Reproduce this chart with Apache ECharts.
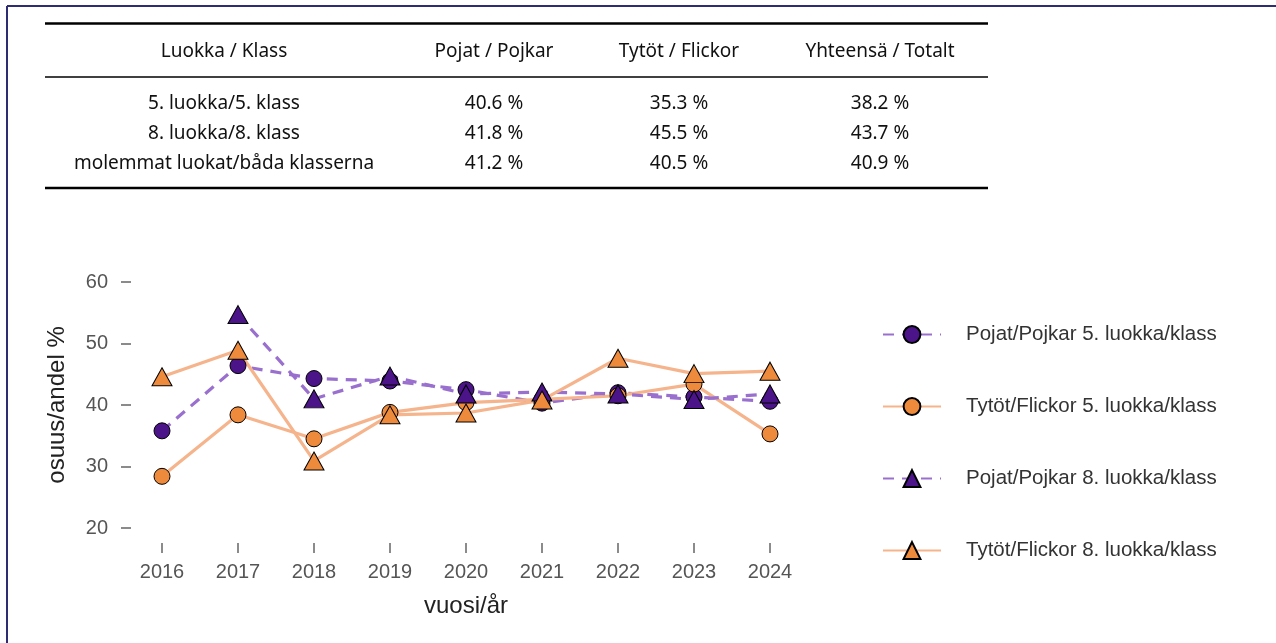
<!DOCTYPE html>
<html>
<head>
<meta charset="utf-8">
<script src="https://cdn.jsdelivr.net/npm/echarts@6/dist/echarts.min.js"></script>
<style>
html,body{margin:0;padding:0;background:#fff;}
#chart{width:1276px;height:643px;}
</style>
</head>
<body>
<div id="chart"></div>
<script>
// ---- data ----
const years = ['2016','2017','2018','2019','2020','2021','2022','2023','2024'];
const pojat5 = [35.8, 46.4, 44.3, 43.9, 42.5, 40.3, 42.0, 41.3, 40.6];
const tytot5 = [28.4, 38.4, 34.5, 38.8, 40.4, 40.9, 41.5, 43.4, 35.3];
const pojat8 = [null, 54.7, 41.0, 44.7, 41.8, 42.1, 41.8, 40.9, 41.8];
const tytot8 = [44.6, 48.9, 30.9, 38.4, 38.7, 40.8, 47.6, 45.1, 45.5];
const seriesNames = ['Pojat/Pojkar 5. luokka/klass','Tytöt/Flickor 5. luokka/klass','Pojat/Pojkar 8. luokka/klass','Tytöt/Flickor 8. luokka/klass'];
const yTicks = [20, 30, 40, 50, 60];

const tableHeaders = ['Luokka / Klass','Pojat / Pojkar','Tytöt / Flickor','Yhteensä / Totalt'];
const tableRowLabels = ['5. luokka/5. klass','8. luokka/8. klass','molemmat luokat/båda klasserna'];
const tablePojat = ['40.6 %','41.8 %','41.2 %'];
const tableTytot = ['35.3 %','45.5 %','40.5 %'];
const tableTotal = ['38.2 %','43.7 %','40.9 %'];

// ---- styles ----
const PURPLE = '#4b1488', PURPLE_LINE = '#9a70cf';
const ORANGE = '#ee8a3c', ORANGE_LINE = '#f5b48c';
const tableFont = '"Noto Sans", sans-serif';
const colX = [224, 494, 679, 880];
const rowY = [104, 134, 164];
const SANS = '"Liberation Sans", Arial, sans-serif';

const graphics = [];
// frame
graphics.push({type:'line', shape:{x1:7,y1:6,x2:1276,y2:6}, style:{stroke:'#2e2c72', lineWidth:2}});
graphics.push({type:'line', shape:{x1:7,y1:6,x2:7,y2:643}, style:{stroke:'#2e2c72', lineWidth:2}});
// table rules
graphics.push({type:'line', shape:{x1:45,y1:23.5,x2:988,y2:23.5}, style:{stroke:'#000', lineWidth:2.5}});
graphics.push({type:'line', shape:{x1:45,y1:77,x2:988,y2:77}, style:{stroke:'#000', lineWidth:1.6}});
graphics.push({type:'line', shape:{x1:45,y1:188,x2:988,y2:188}, style:{stroke:'#000', lineWidth:2.5}});
function cell(text, x, y){
  graphics.push({type:'text', x:x, y:y, style:{text:text, fill:'#111', font:'19px ' + tableFont, textAlign:'center', textVerticalAlign:'middle'}});
}
tableHeaders.forEach((h,i)=>cell(h, colX[i], 52));
tableRowLabels.forEach((t,i)=>{
  cell(t, colX[0], rowY[i]);
  cell(tablePojat[i], colX[1], rowY[i]);
  cell(tableTytot[i], colX[2], rowY[i]);
  cell(tableTotal[i], colX[3], rowY[i]);
});

function mkSeries(name, data, isBoy, symbol){
  return {
    name: name, type:'line', data: data,
    symbol: symbol,
    symbolSize: symbol === 'circle' ? 16 : [20, 18],
    connectNulls: false,
    showAllSymbol: true,
    itemStyle: {color: isBoy ? PURPLE : ORANGE, borderColor:'#000', borderWidth:1},
    lineStyle: {color: isBoy ? PURPLE_LINE : ORANGE_LINE, width:3.2, type: isBoy ? [11,8] : 'solid'},
    emphasis: {disabled:true},
    animation:false
  };
}

const chart = echarts.init(document.getElementById('chart'), null, {renderer:'canvas'});
chart.setOption({
  animation:false,
  backgroundColor:'#fff',
  grid: {left:162, right:506, top:282, bottom:115, containLabel:false},
  xAxis: {
    type:'category', data: years, boundaryGap:false, offset:15,
    axisLine:{show:false},
    axisTick:{show:true, length:10, alignWithLabel:true, lineStyle:{color:'#666', width:1.5}},
    axisLabel:{color:'#555', fontSize:20, fontFamily:SANS, margin:19},
    splitLine:{show:false},
    name:'vuosi/år', nameLocation:'middle', nameGap:51,
    nameTextStyle:{color:'#222', fontSize:24, fontFamily:SANS}
  },
  yAxis: {
    type:'value', min:20, max:60, interval:10, offset:31,
    axisLine:{show:false},
    axisTick:{show:true, length:10, lineStyle:{color:'#666', width:1.5}},
    axisLabel:{color:'#555', fontSize:20, fontFamily:SANS, margin:23},
    splitLine:{show:false},
    name:'osuus/andel %', nameLocation:'middle', nameGap:62, nameRotate:90,
    nameTextStyle:{color:'#222', fontSize:24, fontFamily:SANS}
  },
  legend: {
    orient:'vertical', left:877, top:319, itemWidth:58, itemHeight:21, itemGap:51,
    data: seriesNames,
    textStyle:{color:'#333', fontSize:20.5, fontFamily:SANS, padding:[0,0,0,20]},
    selectedMode:false
  },
  series: [
    mkSeries(seriesNames[0], pojat5, true, 'circle'),
    mkSeries(seriesNames[1], tytot5, false, 'circle'),
    mkSeries(seriesNames[2], pojat8, true, 'triangle'),
    mkSeries(seriesNames[3], tytot8, false, 'triangle')
  ],
  graphic: graphics
});
</script>
</body>
</html>
